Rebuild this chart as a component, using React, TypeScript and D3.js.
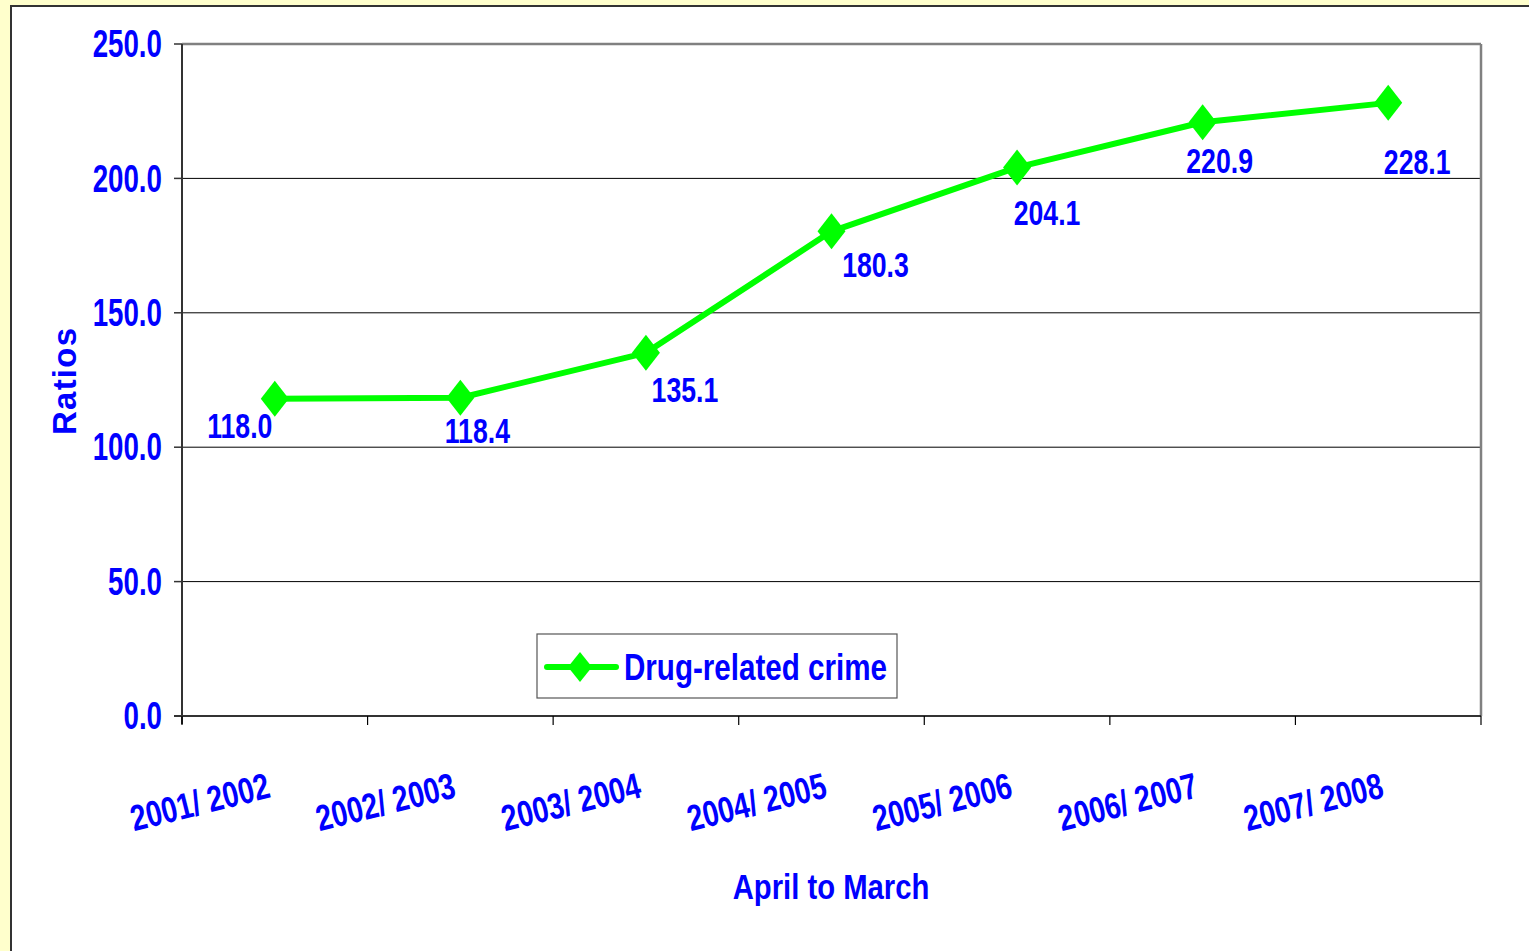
import React from "react";
import * as d3 from "d3";

const categories = ["2001/ 2002", "2002/ 2003", "2003/ 2004", "2004/ 2005", "2005/ 2006", "2006/ 2007", "2007/ 2008"];
const values = [118.0, 118.4, 135.1, 180.3, 204.1, 220.9, 228.1];
const yTicks = [0, 50, 100, 150, 200, 250];
const seriesName = "Drug-related crime";
const xTitle = "April to March";
const yTitle = "Ratios";
// label offsets (manual placement, as in the original)
const labelDx = [-35, 17, 39, 44, 30, 17, 29];
const labelDy = [27, 33, 37, 34, 46, 39, 59];

const W = 1529, H = 951;
const plot = { left: 182, right: 1481, top: 44, bottom: 716 };
const BLUE = "#0000FF";
const GREEN = "#00FF00";
const FONT = "'Liberation Sans Narrow', 'Arial Narrow', 'Liberation Sans', Arial, sans-serif";

function diamond(cx: number, cy: number, rx: number, ry: number) {
  return `M${cx},${cy - ry}L${cx + rx},${cy}L${cx},${cy + ry}L${cx - rx},${cy}Z`;
}
function sc(x: number, y: number, sx: number, sy: number) {
  return `translate(${x},${y}) scale(${sx},${sy}) translate(${-x},${-y})`;
}

export default function App() {
  const x = d3.scaleBand<string>().domain(categories).range([plot.left, plot.right]).padding(0);
  const y = d3.scaleLinear().domain([0, 250]).range([plot.bottom, plot.top]);
  const cx = (c: string) => (x(c) as number) + x.bandwidth() / 2;
  const line = d3.line<number>().x((_, i) => cx(categories[i])).y((d) => y(d));
  const boundaries = categories.map((c) => x(c) as number).concat([plot.right]);

  return (
    <svg width={W} height={H} style={{ position: "absolute", left: 0, top: 0 }} fontFamily={FONT}>
      <rect x={0} y={0} width={W} height={H} fill="#FFFFCC" />
      <rect x={11} y={6} width={W} height={H} fill="#FFFFFF" stroke="#333333" strokeWidth={2} />

      {/* gridlines */}
      {yTicks.filter((t) => t > 0 && t < 250).map((t) => (
        <line key={t} x1={plot.left} x2={plot.right} y1={y(t)} y2={y(t)} stroke="#000" strokeWidth={1} />
      ))}
      {/* frame top & right */}
      <line x1={plot.left} x2={plot.right} y1={plot.top} y2={plot.top} stroke="#808080" strokeWidth={2.5} />
      <line x1={plot.right} x2={plot.right} y1={plot.top} y2={plot.bottom} stroke="#808080" strokeWidth={2.5} />
      {/* axes */}
      <line x1={plot.left} x2={plot.left} y1={plot.top} y2={plot.bottom + 8} stroke="#333" strokeWidth={2} />
      <line x1={plot.left - 8} x2={plot.right} y1={plot.bottom} y2={plot.bottom} stroke="#333" strokeWidth={2} />
      {yTicks.map((t) => (
        <g key={t}>
          <line x1={plot.left - 8} x2={plot.left} y1={y(t)} y2={y(t)} stroke="#333" strokeWidth={1.5} />
          <text x={162} y={y(t)} textAnchor="end" dominantBaseline="central" fontSize={33} fontWeight="bold" fill={BLUE}
            transform={sc(162, y(t), 0.84, 1.15)}>
            {t.toFixed(1)}
          </text>
        </g>
      ))}
      {boundaries.map((b, i) => (
        <line key={i} x1={b} x2={b} y1={plot.bottom} y2={plot.bottom + 9} stroke="#000" strokeWidth={1.2} />
      ))}
      {categories.map((c) => {
        const ax = cx(c) - 3, ay = 797;
        return (
          <text key={c} x={ax} y={ay} textAnchor="end" fontSize={33} fontWeight="bold" fill={BLUE}
            transform={`rotate(-14, ${ax}, ${ay}) ${sc(ax, ay, 0.86, 1.1)}`}>
            {c}
          </text>
        );
      })}

      {/* series */}
      <path d={line(values) || ""} fill="none" stroke={GREEN} strokeWidth={6} strokeLinejoin="round" />
      {values.map((v, i) => (
        <path key={i} d={diamond(cx(categories[i]), y(v), 14, 18)} fill={GREEN} />
      ))}
      {values.map((v, i) => {
        const px = cx(categories[i]) + labelDx[i];
        const py = y(v) + labelDy[i];
        return (
          <text key={i} x={px} y={py} textAnchor="middle" dominantBaseline="central" fontSize={31} fontWeight="bold" fill={BLUE}
            transform={sc(px, py, 0.86, 1.13)}>
            {v.toFixed(1)}
          </text>
        );
      })}

      {/* legend */}
      <rect x={537} y={634} width={360} height={64} fill="#fff" stroke="#555" strokeWidth={1.2} />
      <line x1={547} x2={616} y1={667} y2={667} stroke={GREEN} strokeWidth={6} strokeLinecap="round" />
      <path d={diamond(580, 667, 12, 15)} fill={GREEN} />
      <text x={624} y={667} dominantBaseline="central" fontSize={33} fontWeight="bold" fill={BLUE}
        textLength={263} lengthAdjust="spacingAndGlyphs"
        transform={sc(624, 667, 1, 1.1)}>
        {seriesName}
      </text>

      {/* titles */}
      <text x={831} y={886} textAnchor="middle" dominantBaseline="central" fontSize={34} fontWeight="bold" fill={BLUE}
        transform={sc(831, 886, 0.86, 1.05)}>
        {xTitle}
      </text>
      <text x={0} y={0} textAnchor="middle" dominantBaseline="central" fontSize={33} fontWeight="bold" fill={BLUE} letterSpacing={3}
        textLength={110} lengthAdjust="spacing"
        transform={`translate(64,380) rotate(-90)`}>
        {yTitle}
      </text>
    </svg>
  );
}
